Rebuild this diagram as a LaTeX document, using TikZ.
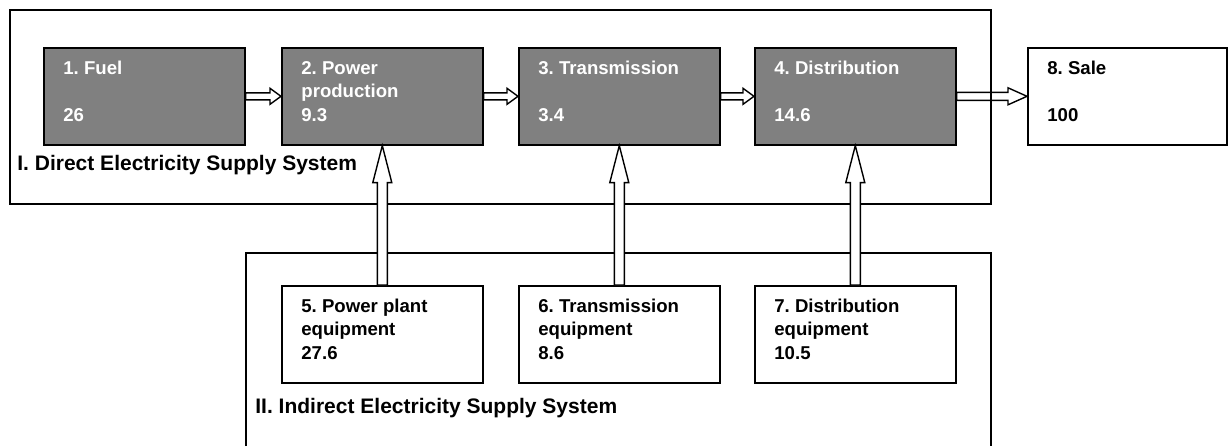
\documentclass[tikz,border=0pt]{standalone}
\usepackage{fontspec}
\setmainfont{Liberation Sans}
\frenchspacing
\usetikzlibrary{calc}
\newcommand\blkH[5]{% from, to, shaft half, head half, head length
  \draw[blk] ($(#1)+(0,-#3)$) -- ($(#2)+(-#5,-#3)$) -- ($(#2)+(-#5,-#4)$) -- (#2)
    -- ($(#2)+(-#5,#4)$) -- ($(#2)+(-#5,#3)$) -- ($(#1)+(0,#3)$) -- cycle;}
\newcommand\blkV[5]{% from (below), to (above)
  \draw[blk] ($(#1)+(-#3,0)$) -- ($(#2)+(-#3,#5)$) -- ($(#2)+(-#4,#5)$) -- (#2)
    -- ($(#2)+(#4,#5)$) -- ($(#2)+(#3,#5)$) -- ($(#1)+(#3,0)$) -- cycle;}
\begin{document}
\begin{tikzpicture}[x=0.5pt,y=-0.5pt,
  frame/.style={draw=black,line width=0.75pt},
  dbox/.style={draw=black,line width=0.8pt,fill=black!50,minimum width=100.5pt,minimum height=48.5pt,anchor=north west,inner sep=0pt},
  wbox/.style={draw=black,line width=0.8pt,fill=white,minimum width=100.5pt,minimum height=48.5pt,anchor=north west,inner sep=0pt},
  txt/.style={font=\fontsize{9.3}{11.75}\selectfont\bfseries,align=left,anchor=base west,inner sep=0pt},
  lbl/.style={font=\fontsize{10.5}{13}\selectfont\bfseries,anchor=base west,inner sep=0pt},
  blk/.style={draw=black,line width=0.7pt,fill=white,line join=miter}]
\useasboundingbox (0,0) rectangle (1228,446);
% indirect system frame (open at the bottom)
\coordinate (p1) at (246,446);
\coordinate (p2) at (246,253);
\coordinate (p3) at (991,253);
\coordinate (p4) at (991,446);
\draw[frame] (p1) -- (p2) -- (p3) -- (p4);
% boxes
\node[dbox] (b1) at (43,47) {};
\node[dbox] (b2) at (281,47) {};
\node[dbox] (b3) at (518,47) {};
\node[dbox] (b4) at (754,47) {};
\node[wbox,minimum width=99.5pt] (b8) at (1027,47) {};
\node[wbox] (b5) at (281,285) {};
\node[wbox] (b6) at (518,285) {};
\node[wbox] (b7) at (754,285) {};
% arrow to sale (under the frame line)
\blkH{b4.east}{b8.west}{4}{8.5}{19}
% direct system frame
\node[frame,draw,fill=none,anchor=north west,minimum width=490.5pt,minimum height=97pt,inner sep=0pt] (sysI) at (9,9) {};
% texts (anchor = baseline of the last line)
\node[txt,text=white] (t1) at ($(b1.north west)+(20,74)$) {1. Fuel\\\mbox{}\\26};
\node[txt,text=white] (t2) at ($(b2.north west)+(20,74)$) {2. Power\\production\\9.3};
\node[txt,text=white] (t3) at ($(b3.north west)+(20,74)$) {3. Transmission\\\mbox{}\\3.4};
\node[txt,text=white] (t4) at ($(b4.north west)+(20,74)$) {4. Distribution\\\mbox{}\\14.6};
\node[txt] (t8) at ($(b8.north west)+(20,74)$) {8. Sale\\\mbox{}\\100};
\node[txt] (t5) at ($(b5.north west)+(20,74)$) {5. Power plant\\equipment\\27.6};
\node[txt] (t6) at ($(b6.north west)+(20,74)$) {6. Transmission\\equipment\\8.6};
\node[txt] (t7) at ($(b7.north west)+(20,74)$) {7. Distribution\\equipment\\10.5};
\node[lbl] (lI) at (17,170) {I. Direct Electricity Supply System};
\node[lbl] (lII) at (255,413) {II. Indirect Electricity Supply System};
% arrows
\blkH{b1.east}{b2.west}{3.5}{8}{11}
\blkH{b2.east}{b3.west}{3.5}{8}{11}
\blkH{b3.east}{b4.west}{3.5}{8}{11}
\blkV{b5.north}{b2.south}{5}{9.5}{37}
\blkV{b6.north}{b3.south}{5}{9.5}{37}
\blkV{b7.north}{b4.south}{5}{9.5}{37}
\end{tikzpicture}
\end{document}
